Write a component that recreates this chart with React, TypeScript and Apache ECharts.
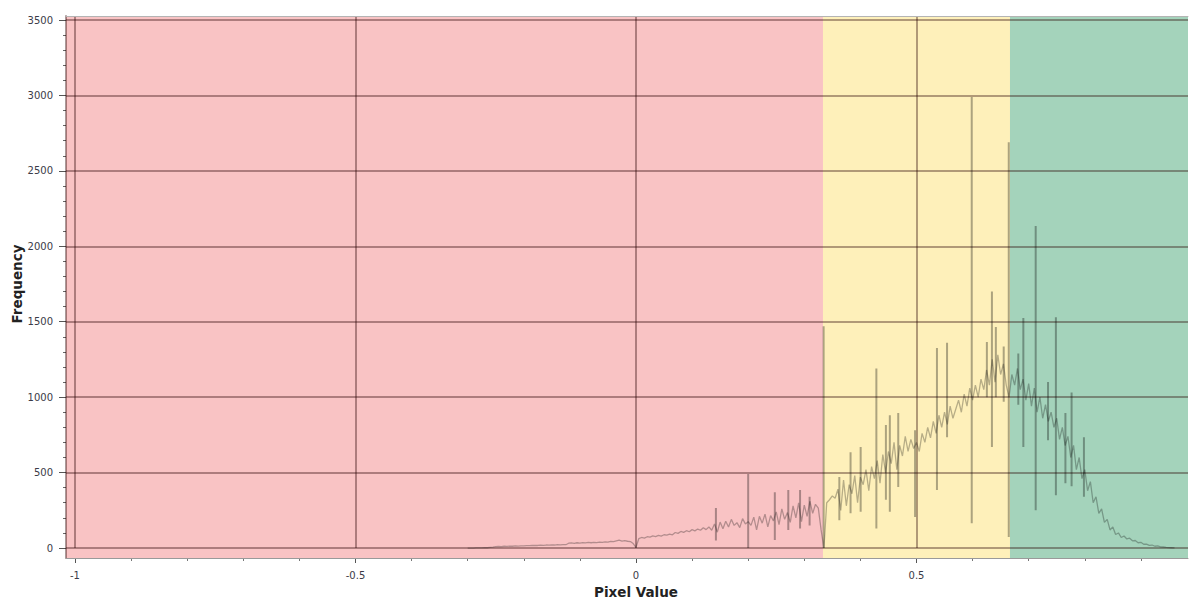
import React, { useEffect, useRef } from "react";
import * as echarts from "echarts";

// ---- data ----
const STEP = 0.005;

const negStart = -0.3;
const freqNeg = [
  0, 0, 0, 1, 1, 1, 2, 2, 4, 6,
  9, 11, 10, 12, 11, 13, 12, 14, 13, 15, 14, 16,
  16, 17, 18, 17, 19, 18, 20, 19, 21, 20, 22, 21, 23, 22,
  32, 34, 31, 35, 33, 36, 34, 37, 35, 38, 36, 39,
  38, 41, 39, 44, 42, 47, 52, 46, 49, 45, 43, 30,
];

const redStart = 0;
const freqRed = [
  5, 62, 70, 66, 75, 72, 80, 76, 84, 79,
  88, 85, 92, 88, 103, 97, 110, 104, 115, 108,
  122, 114, 126, 118, 135, 122, 140, 118, 160, 105,
  172, 128, 178, 140, 190, 150, 168, 135, 195, 160,
  175, 150, 205, 120, 210, 165, 225, 140, 215, 180,
  240, 155, 260, 190, 235, 170, 280, 200, 300, 175,
  285, 210, 310, 230, 290, 265, 120,
];

const yellowStart = 0.335;
const freqYellow = [
  0, 300, 320, 345, 330, 390, 250, 450, 280, 420,
  360, 480, 300, 470, 420, 520, 380, 540, 460, 580,
  430, 620, 500, 640, 560, 700, 520, 680, 610, 740,
  640, 720, 660, 700, 640, 760, 700, 800, 730, 840,
  760, 880, 800, 900, 820, 940, 860, 920, 980, 900,
  1020, 940, 1060, 980, 1080, 1000, 1120, 1050, 1180, 1080,
  1250, 1100, 1280, 1150, 1220, 1080, 1000,
];

const greenStart = 0.67;
const freqGreen = [
  1150, 1080, 1190, 1050, 1120, 980, 1090, 940, 1060, 900,
  1000, 860, 950, 840, 900, 800, 860, 720, 800, 680,
  740, 600, 680, 520, 600, 460, 520, 380, 440, 300,
  340, 230, 260, 170, 190, 120, 140, 90, 100, 70,
  80, 60, 65, 48, 50, 35, 38, 25, 26, 18,
  20, 12, 14, 8, 7, 4, 3, 2, 1,
];

// isolated single-bin spikes: position, low end, high end
const spikeX = [
  0.1425, 0.2, 0.2475, 0.2715, 0.2925, 0.3095, 0.3345, 0.3625, 0.3825, 0.4005,
  0.4285, 0.4455, 0.4525, 0.4675, 0.4975, 0.5365, 0.5545, 0.5985, 0.6255, 0.6345,
  0.6415, 0.6555, 0.6645, 0.6815, 0.6905, 0.7125, 0.7345, 0.7485, 0.7655, 0.7765,
  0.7985,
];
const spikeLow = [
  50, 0, 53, 120, 130, 150, 0, 185, 230, 240,
  130, 320, 240, 405, 205, 385, 735, 165, 1000, 670,
  1000, 970, 73, 950, 670, 250, 715, 350, 430, 410,
  340,
];
const spikeHigh = [
  265, 490, 370, 385, 385, 340, 1470, 470, 635, 670,
  1190, 815, 880, 895, 780, 1325, 1360, 2990, 1365, 1700,
  1465, 1335, 2690, 1290, 1525, 2135, 1100, 1530, 895, 1030,
  735,
];

const bandEdges = [-1.016, 1 / 3, 2 / 3, 0.984];

// ---- view ----
const X_MIN = -1.016;
const X_MAX = 0.984;
const Y_MIN = -66;
const Y_MAX = 3526;
const BAND_COLORS = ["#F9C3C4", "#FEF0BA", "#A4D3BB"];
const GRID_LINE = "rgba(40,0,0,0.36)";
const DATA_LINE = "rgba(0,0,0,0.28)";
const FONT = "DejaVu Sans";

function seg(start: number, arr: number[]) {
  return arr.map((v, i) => [Number((start + i * STEP).toFixed(4)), v]);
}

export default function App() {
  const ref = useRef<HTMLDivElement>(null);
  useEffect(() => {
    if (!ref.current) return;
    const chart = echarts.init(ref.current, undefined, { renderer: "svg" });
    const histData = [
      ...seg(negStart, freqNeg),
      ...seg(redStart, freqRed),
      ...seg(yellowStart, freqYellow),
      ...seg(greenStart, freqGreen),
    ];
    const spikeData: any[] = [];
    spikeX.forEach((x, i) => {
      spikeData.push([x, spikeLow[i]], [x, spikeHigh[i]], [x, "-"]);
    });
    const bands = BAND_COLORS.map((c, i) => [
      { xAxis: bandEdges[i], itemStyle: { color: c, opacity: 1 } },
      { xAxis: bandEdges[i + 1] },
    ]);
    const labelStyle = {
      color: "#3b3b48", fontSize: 10, fontFamily: FONT,
      formatter: (v: number) => String(v),
    };
    const nameStyle = { color: "#222", fontSize: 13.5, fontWeight: "bold" as const, fontFamily: FONT };

    chart.setOption({
      animation: false,
      grid: [
        { left: 66, right: 2, top: 16, bottom: 41, outerBoundsMode: "none", containLabel: false },
        { left: 66, right: 2, top: 20, bottom: 51, outerBoundsMode: "none", containLabel: false },
        { left: 75, width: 1122, top: 16, bottom: 51, outerBoundsMode: "none", containLabel: false },
      ],
      xAxis: [
        {
          gridIndex: 0, type: "value", min: X_MIN, max: X_MAX, position: "bottom", z: 5,
          axisLine: { show: true, onZero: false, lineStyle: { color: "#9a9a9a", width: 1 } },
          axisTick: { show: false }, axisLabel: { show: false }, splitLine: { show: false },
        },
        {
          gridIndex: 0, type: "value", min: X_MIN, max: X_MAX, position: "top", z: 5,
          axisLine: { show: true, onZero: false, lineStyle: { color: "#b4b4b4", width: 1 } },
          axisTick: { show: false }, axisLabel: { show: false }, splitLine: { show: false },
        },
        { gridIndex: 1, type: "value", min: 0, max: 1, show: false },
        {
          gridIndex: 2, type: "value", min: -1, max: 1, interval: 0.5, position: "bottom", offset: 10, z: 3,
          axisLine: { show: false, onZero: false },
          axisTick: { show: true, length: 5, lineStyle: { color: "#555" } },
          minorTick: { show: true, splitNumber: 5, length: 3, lineStyle: { color: "#777" } },
          axisLabel: { ...labelStyle, margin: 12, showMaxLabel: false },
          splitLine: { show: true, lineStyle: { color: GRID_LINE, width: 2 } },
          name: "Pixel Value", nameLocation: "middle", nameGap: 27, nameTextStyle: nameStyle,
        },
      ],
      yAxis: [
        {
          gridIndex: 0, type: "value", min: Y_MIN, max: Y_MAX, z: 5,
          axisLine: { show: true, onZero: false, lineStyle: { color: "rgba(40,0,0,0.4)", width: 2 } },
          axisTick: { show: false }, axisLabel: { show: false }, splitLine: { show: false },
        },
        {
          gridIndex: 1, type: "value", min: 0, max: 3500, interval: 500, z: 3,
          axisLine: { show: false, onZero: false },
          axisTick: { show: true, length: 7, lineStyle: { color: "#555" } },
          minorTick: { show: true, splitNumber: 5, length: 3, lineStyle: { color: "#666" } },
          axisLabel: { ...labelStyle, margin: 13 },
          splitLine: { show: true, lineStyle: { color: GRID_LINE, width: 2 } },
          name: "Frequency", nameLocation: "middle", nameGap: 42, nameMoveOverlap: false,
          nameTextStyle: nameStyle,
        },
        { gridIndex: 2, type: "value", min: 0, max: 1, show: false },
      ],
      series: [
        {
          type: "line", xAxisIndex: 0, yAxisIndex: 0, z: 1, silent: true,
          data: [[bandEdges[0], 0]], showSymbol: false,
          lineStyle: { opacity: 0 },
          markArea: { silent: true, data: bands },
        },
        {
          type: "line", xAxisIndex: 0, yAxisIndex: 0, z: 4, data: histData,
          showSymbol: false, symbol: "none",
          lineStyle: { color: DATA_LINE, width: 1.3 },
        },
        {
          type: "line", xAxisIndex: 0, yAxisIndex: 0, z: 4, data: spikeData,
          showSymbol: false, symbol: "none", connectNulls: false,
          lineStyle: { color: "rgba(0,0,0,0.32)", width: 2 },
        },
      ],
    });
    return () => chart.dispose();
  }, []);
  return (
    <div
      ref={ref}
      style={{ position: "fixed", left: 0, top: 0, width: 1190, height: 599, background: "#fff" }}
    />
  );
}
